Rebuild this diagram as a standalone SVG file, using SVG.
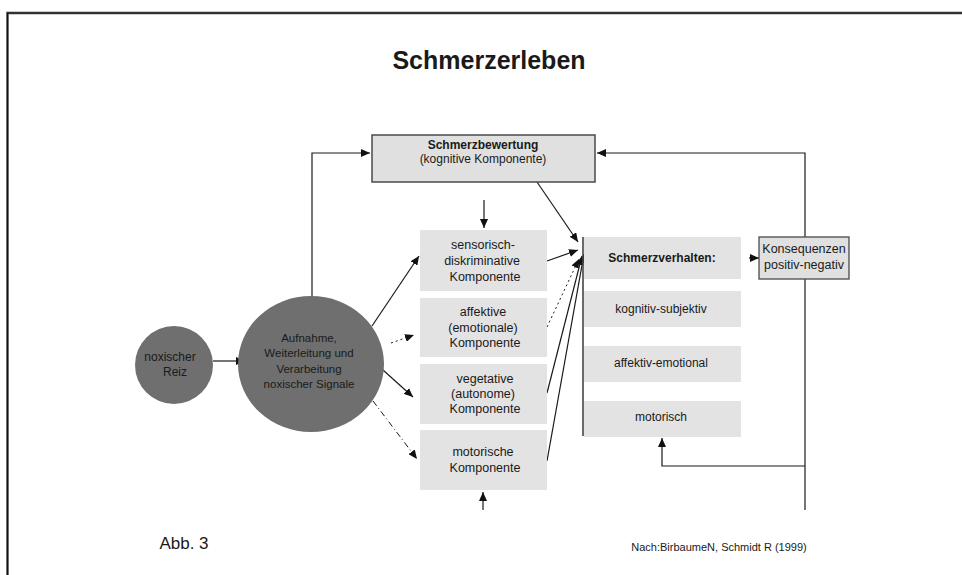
<svg xmlns="http://www.w3.org/2000/svg" width="962" height="575" viewBox="0 0 962 575">
<style>
text{font-family:"Liberation Sans",Arial,sans-serif;fill:#1a1a1a;text-anchor:middle;dominant-baseline:central}
.t12{font-size:12.5px}
.b12{font-size:12px;font-weight:bold}
.comp{fill:#e3e3e3;stroke:none}
.bx{fill:#e0e0e0;stroke:#4a4a4a;stroke-width:1.5}
.circ{fill:#6f6f6f}
.ln{fill:none;stroke:#1a1a1a;stroke-width:1.2}
.dot{fill:none;stroke:#1a1a1a;stroke-width:1;stroke-dasharray:2 3}
.dd{fill:none;stroke:#1a1a1a;stroke-width:1;stroke-dasharray:6 3 1 3}
</style>
<defs>
<marker id="ah" markerWidth="9" markerHeight="8" refX="9" refY="4" orient="auto" markerUnits="userSpaceOnUse">
<path d="M0,0 L9,4 L0,8 Z" fill="#111"/>
</marker>
</defs>
<rect width="962" height="575" fill="#fff"/>
<g id="frame">
<path d="M7.5,575 V13 H962" fill="none" stroke="#999" stroke-width="3"/>
<path d="M7.5,575 V13 H962" fill="none" stroke="#111" stroke-width="1.6"/>
</g>
<text x="489" y="60" style="font-size:25px;font-weight:bold">Schmerzerleben</text>

<g id="connectors">
<path class="ln" d="M312,297 V153 H370" marker-end="url(#ah)"/>
<path class="ln" d="M805,237 V153 H597" marker-end="url(#ah)"/>
<path class="ln" d="M805,279 V510"/>
<path class="ln" d="M805,466 H662 V438" marker-end="url(#ah)"/>
<path class="ln" d="M484,200 V228" marker-end="url(#ah)"/>
<path class="ln" d="M483,510 V492" marker-end="url(#ah)"/>
<path class="ln" d="M213,361 H245" marker-end="url(#ah)"/>
<path class="ln" d="M537,182 L578,242" marker-end="url(#ah)"/>
<path class="ln" d="M372,326 L419,256" marker-end="url(#ah)"/>
<path class="dot" d="M391,343 L414,335" marker-end="url(#ah)"/>
<path class="ln" d="M383,370 L413,397" marker-end="url(#ah)"/>
<path class="dd" d="M373,401 L417,459" marker-end="url(#ah)"/>
<path class="ln" d="M547,261 L578,250" marker-end="url(#ah)"/>
<path class="dot" d="M547,327 L579,259" marker-end="url(#ah)"/>
<path class="ln" d="M547,393 L582,256" marker-end="url(#ah)"/>
<path class="ln" d="M547,461 L584,254" marker-end="url(#ah)"/>
<path class="ln" d="M749,258 H759" marker-end="url(#ah)"/>
<path d="M583,237 V436" fill="none" stroke="#444" stroke-width="1.6"/>
</g>

<g id="schmerzbewertung">
<rect class="bx" x="372" y="135" width="223" height="47"/>
<text class="b12" x="483" y="145">Schmerzbewertung</text>
<text class="t12" x="483" y="159" style="font-size:12px">(kognitive Komponente)</text>
</g>

<g id="reiz">
<circle class="circ" cx="174" cy="365" r="39"/>
<text class="t12" x="170" y="357" style="font-size:12px">noxischer</text>
<text class="t12" x="175" y="372" style="font-size:12px">Reiz</text>
</g>

<g id="aufnahme">
<ellipse class="circ" cx="311" cy="364" rx="73" ry="68"/>
<text class="t12" x="309" y="338" style="font-size:11.5px">Aufnahme,</text>
<text class="t12" x="309" y="353" style="font-size:11.5px">Weiterleitung und</text>
<text class="t12" x="309" y="369" style="font-size:11.5px">Verarbeitung</text>
<text class="t12" x="309" y="384" style="font-size:11.5px">noxischer  Signale</text>
</g>

<g id="sensorisch">
<rect class="comp" x="420" y="230" width="127" height="61"/>
<text class="t12" x="483" y="245">sensorisch-</text>
<text class="t12" x="482" y="261">diskriminative</text>
<text class="t12" x="485" y="277">Komponente</text>
</g>
<g id="affektiv">
<rect class="comp" x="420" y="298" width="127" height="59"/>
<text class="t12" x="483" y="312">affektive</text>
<text class="t12" x="483" y="328">(emotionale)</text>
<text class="t12" x="485" y="343">Komponente</text>
</g>
<g id="vegetativ">
<rect class="comp" x="420" y="364" width="127" height="60"/>
<text class="t12" x="485" y="379">vegetative</text>
<text class="t12" x="483" y="394">(autonome)</text>
<text class="t12" x="485" y="409">Komponente</text>
</g>
<g id="motorisch-komp">
<rect class="comp" x="420" y="430" width="127" height="60"/>
<text class="t12" x="483" y="452">motorische</text>
<text class="t12" x="485" y="468">Komponente</text>
</g>

<g id="schmerzverhalten">
<rect class="comp" x="584" y="237" width="157" height="42"/>
<text class="b12" x="662" y="258">Schmerzverhalten:</text>
</g>
<g id="kognitiv">
<rect class="comp" x="584" y="291" width="157" height="36"/>
<text class="t12" x="661" y="309" style="font-size:12px">kognitiv-subjektiv</text>
</g>
<g id="affektiv-emotional">
<rect class="comp" x="584" y="346" width="157" height="36"/>
<text class="t12" x="661" y="363" style="font-size:12px">affektiv-emotional</text>
</g>
<g id="motorisch">
<rect class="comp" x="584" y="401" width="157" height="36"/>
<text class="t12" x="661" y="417" style="font-size:12px">motorisch</text>
</g>

<g id="konsequenzen">
<rect class="bx" x="759" y="237" width="90" height="42" style="stroke-width:1.3"/>
<text class="t12" x="804" y="249">Konsequenzen</text>
<text class="t12" x="804" y="265">positiv-negativ</text>
</g>

<text x="184" y="543" style="font-size:17px">Abb. 3</text>
<text x="719" y="547" style="font-size:11px">Nach:BirbaumeN, Schmidt R (1999)</text>
</svg>
